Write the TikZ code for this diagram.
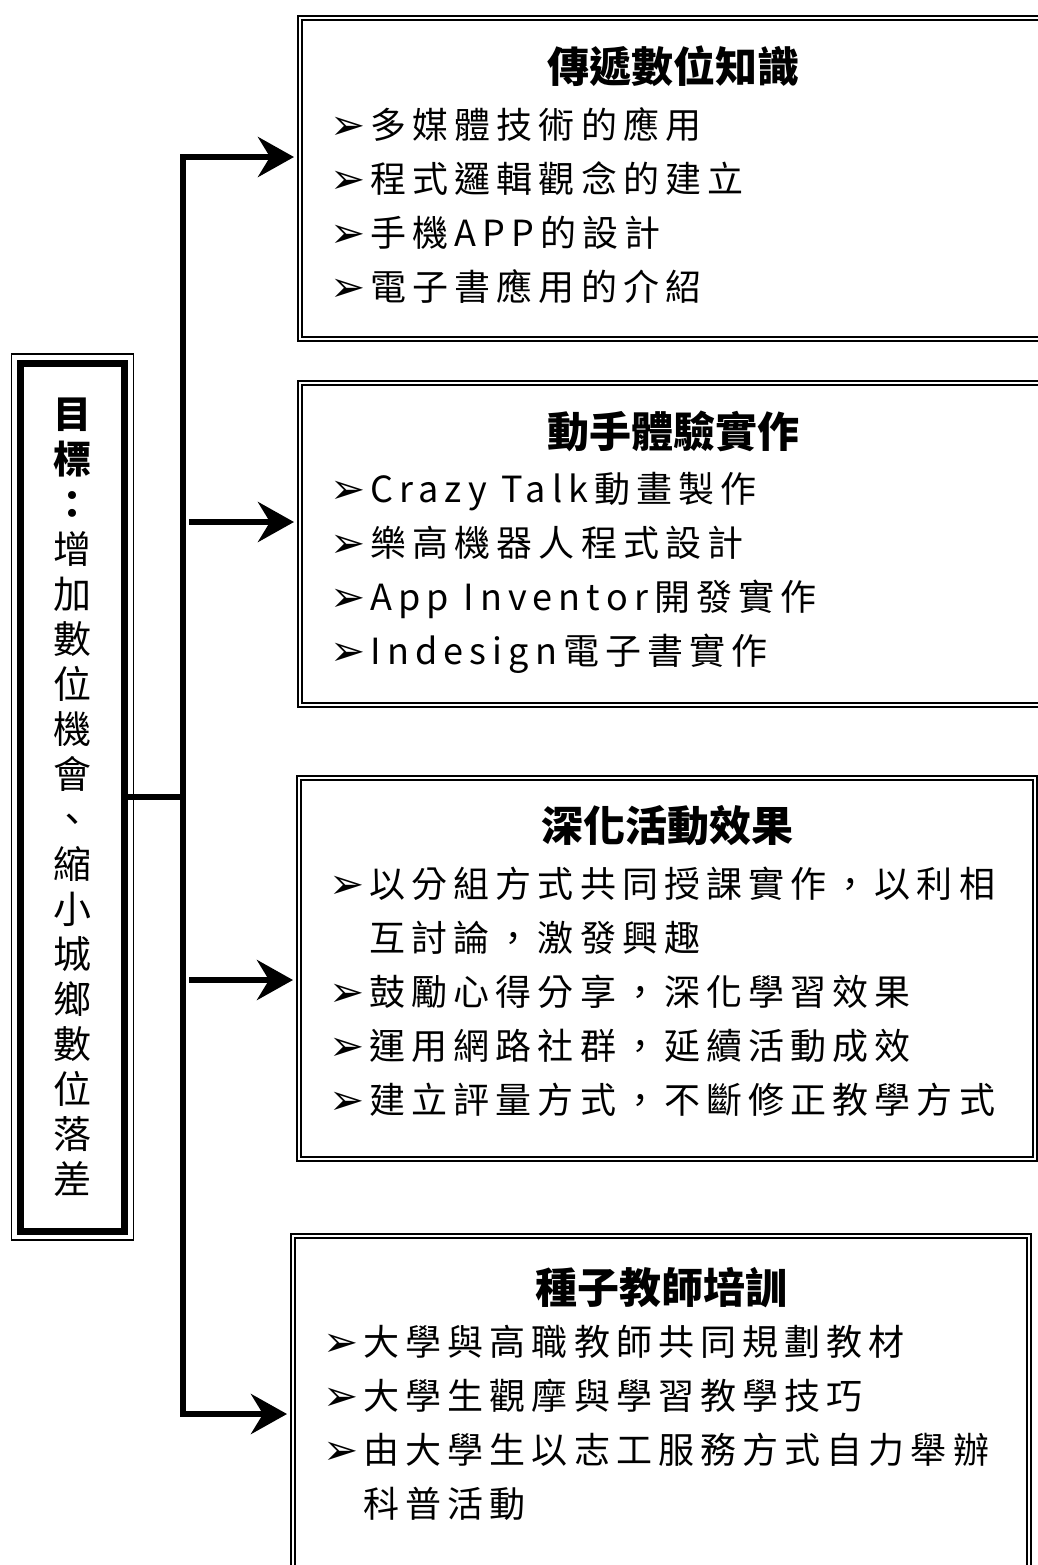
\documentclass[tikz,border=0pt]{standalone}
\usepackage{fontspec}
\setmainfont{Noto Sans CJK TC}
\newfontfamily\itemfont[LetterSpace=17]{Noto Sans CJK TC}
\newfontfamily\symfont{DejaVu Sans}
\usetikzlibrary{arrows.meta,positioning}
\newcommand{\bul}{\makebox[20pt][l]{\raisebox{-0.5pt}{\symfont\fontsize{21pt}{21pt}\selectfont\char"27A2}}}
\newcommand{\nobul}{\hspace*{20pt}}

\begin{document}
\begin{tikzpicture}[x=0.5pt,y=-0.5pt,
    >={Stealth[length=18pt,width=20pt,inset=6pt]},
    goalbox/.style={draw, line width=3.5pt, minimum width=52pt, minimum height=434pt,
      inner sep=0pt, outer sep=0pt, align=center, font=\fontsize{19pt}{22.5pt}\selectfont},
    topicbox/.style={draw, double, line width=0.9pt, double distance=1.2pt,
      inner sep=0pt, outer sep=0pt},
    topic/.style={inner sep=0pt, font=\fontsize{21pt}{25pt}\selectfont\bfseries},
    items/.style={inner sep=0pt, align=left, font=\itemfont\fontsize{18pt}{27pt}\selectfont},
    link/.style={line width=3pt, shorten >=3pt, shorten <=3pt}]
  \useasboundingbox (0,0) rectangle (1038,1565);

  % goal
  \node[goalbox] (goal) at (72.5,797) {{\bfseries 目}\\{\bfseries 標}\\{\bfseries ：}\\增\\加\\數\\位\\機\\會\\、\\縮\\小\\城\\鄉\\數\\位\\落\\差};
  \draw[line width=0.8pt] ([shift={(-4.5pt,4.5pt)}]goal.north west) rectangle ([shift={(4.5pt,-4.5pt)}]goal.south east);

  % topic boxes
  \node[topicbox, minimum width=373.5pt, minimum height=160.5pt] (k1) at (673.5,178.5) {};
  \node[topicbox, minimum width=373.5pt, minimum height=161pt] (k2) at (673.5,544) {};
  \node[topicbox, minimum width=368pt, minimum height=190.5pt] (k3) at (667,968.5) {};
  \node[topicbox, minimum width=368pt, minimum height=180.5pt] (k4) at (661,1416.5) {};

  \node[topic] (t1) at ([yshift=-24pt]k1.north) {傳遞數位知識};
  \node[topic] (t2) at ([yshift=-24pt]k2.north) {動手體驗實作};
  \node[topic] (t3) at ([yshift=-24pt]k3.north) {深化活動效果};
  \node[topic] (t4) at ([yshift=-26pt]k4.north) {種子教師培訓};

  \coordinate (c1) at (t1.south -| k1.west);
  \coordinate (c2) at (t2.south -| k2.west);
  \coordinate (c3) at (t3.south -| k3.west);
  \coordinate (c4) at (t4.south -| k4.west);

  \node[items, below right=10pt and 15pt of c1] (l1) {\bul 多媒體技術的應用\\
    \bul 程式邏輯觀念的建立\\
    \bul 手機APP的設計\\
    \bul 電子書應用的介紹};
  \node[items, below right=10pt and 15pt of c2] (l2) {\bul Crazy Talk動畫製作\\
    \bul 樂高機器人程式設計\\
    \bul App Inventor開發實作\\
    \bul Indesign電子書實作};
  \node[items, below right=10pt and 15pt of c3] (l3) {\bul 以分組方式共同授課實作，以利相\\
    \nobul 互討論，激發興趣\\
    \bul 鼓勵心得分享，深化學習效果\\
    \bul 運用網路社群，延續活動成效\\
    \bul 建立評量方式，不斷修正教學方式};
  \node[items, below right=8pt and 15pt of c4] (l4) {\bul 大學與高職教師共同規劃教材\\
    \bul 大學生觀摩與學習教學技巧\\
    \bul 由大學生以志工服務方式自力舉辦\\
    \nobul 科普活動};

  % connectors
  \coordinate (a1) at (183,157);
  \coordinate (a2) at (183,522);
  \coordinate (a3) at (183,980);
  \coordinate (a4) at (183,1414);
  \draw[line width=3pt] (goal.east) -- (goal.east -| a1);
  \draw[link, <->] (a1 -| k1.west) -- (a1) -- (a4) -- (a4 -| k4.west);
  \draw[link, ->] (a2) -- (a2 -| k2.west);
  \draw[link, ->] (a3) -- (a3 -| k3.west);
\end{tikzpicture}
\end{document}
